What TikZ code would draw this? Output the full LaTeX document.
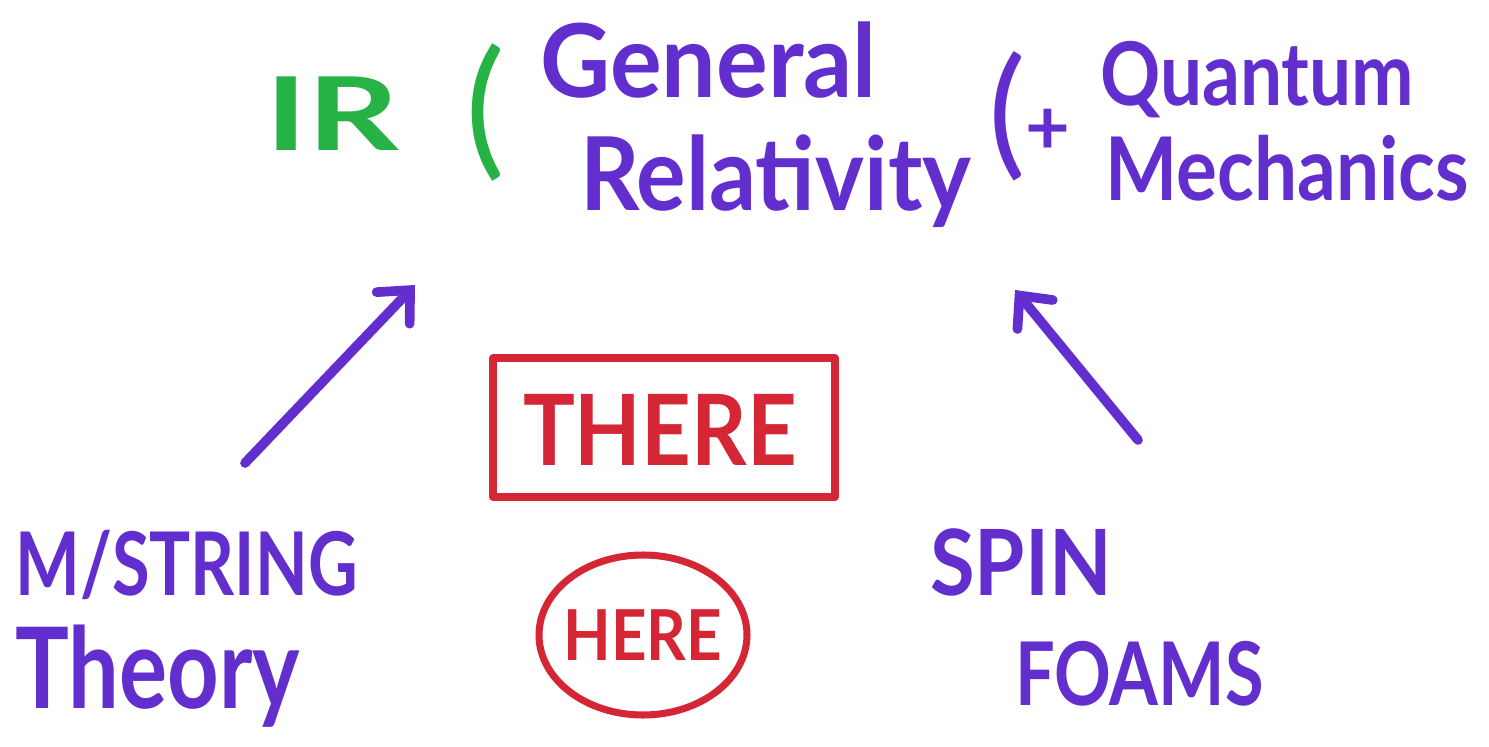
\documentclass[tikz,border=0pt]{standalone}
\usepackage{fontspec}
\setmainfont{Lato}
\usetikzlibrary{arrows.meta,shapes.geometric}
\definecolor{inkpurple}{RGB}{98,46,205}
\definecolor{inkred}{RGB}{212,38,52}
\definecolor{inkgreen}{RGB}{38,178,68}
\newcommand{\sqz}[2]{\scalebox{#1}[1]{#2}}

\begin{document}
\begin{tikzpicture}[x=0.02cm,y=-0.02cm,
    ink/.style={inner sep=0pt,text=inkpurple},
    arr/.style={inkpurple,line width=5.5pt,line cap=round,line join=round,
        -{Straight Barb[length=14pt,width=26pt,line cap=round]}},
    redbox/.style={draw=inkred,line width=4pt,line join=round}]
    \useasboundingbox[fill=white] (0,0) rectangle (1489,747);

    % IR scale, green
    \node[ink,text=inkgreen,anchor=base west,font=\fontsize{58}{58}\selectfont\bfseries] (ir) at (265,150) {\sqz{1.4}{IR}};
    \node[ink,text=inkgreen,anchor=center,font=\fontsize{85}{85}\selectfont] (gpar) at (485,113) {(};

    % General Relativity
    \node[ink,anchor=base west,font=\fontsize{58}{58}\selectfont\bfseries] (gen) at (540,97) {\sqz{0.95}{General}};
    \node[ink,anchor=base west,font=\fontsize{58}{58}\selectfont\bfseries] (rel) at (580,210) {\sqz{0.91}{Relativity}};
    \node[ink,anchor=base west,font=\fontsize{80}{80}\selectfont] (plus) at (988,160) {(\raisebox{3pt}{\fontsize{44}{44}\selectfont\bfseries +}};
    \node[ink,anchor=base west,font=\fontsize{50}{50}\selectfont\bfseries] (qu) at (1100,105) {\sqz{0.85}{Quantum}};
    \node[ink,anchor=base west,font=\fontsize{50}{50}\selectfont\bfseries] (mech) at (1105,200) {\sqz{0.87}{Mechanics}};

    % candidates
    \node[ink,anchor=base west,font=\fontsize{50}{50}\selectfont\bfseries] (mstr) at (15,595) {\sqz{0.78}{M/STRING}};
    \node[ink,anchor=base west,font=\fontsize{64}{64}\selectfont\bfseries] (theo) at (15,708) {\sqz{0.8}{Theory}};
    \node[ink,anchor=base west,font=\fontsize{52}{52}\selectfont\bfseries] (spin) at (930,595) {\sqz{0.89}{SPIN}};
    \node[ink,anchor=base west,font=\fontsize{50}{50}\selectfont\bfseries] (foam) at (1015,705) {\sqz{0.80}{FOAMS}};

    % there and here
    \node[ink,text=inkred,anchor=base,font=\fontsize{56}{56}\selectfont\bfseries] (there) at (660,465) {\sqz{0.88}{THERE}};
    \draw[redbox] (493,358) rectangle (835,497);
    \node[ink,text=inkred,anchor=base,font=\fontsize{40}{40}\selectfont\bfseries] (here) at (643,660) {\sqz{0.88}{HERE}};
    \draw[redbox] (643,635) ellipse (104 and 80);

    % arrows up to GR
    \coordinate (a1s) at (245,463);
    \coordinate (a1e) at (415,285);
    \coordinate (a2s) at (1138,440);
    \coordinate (a2e) at (1015,290);
    \draw[arr] (a1s) -- (a1e);
    \draw[arr] (a2s) -- (a2e);
\end{tikzpicture}
\end{document}
